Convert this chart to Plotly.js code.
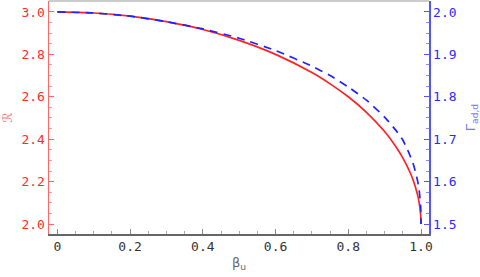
<!DOCTYPE html>
<html><head><meta charset="utf-8">
<script src="https://cdn.plot.ly/plotly-3.0.1.min.js"></script>
<style>html,body{margin:0;padding:0;background:#fff}#plot{width:480px;height:277px}</style>
</head><body><div id="plot"></div>
<script>
const betaU = [0, 0.1, 0.2, 0.3, 0.4, 0.5, 0.6, 0.7, 0.75, 0.8, 0.85, 0.9, 0.93, 0.95, 0.97, 0.98, 0.99, 0.995, 0.999, 1.0];
const ratioR = [3.0, 2.995, 2.980, 2.954, 2.917, 2.866, 2.800, 2.714, 2.661, 2.600, 2.527, 2.436, 2.367, 2.312, 2.243, 2.199, 2.141, 2.100, 2.045, 2.0];
const gammaAd = [2.0, 1.9975, 1.990, 1.977, 1.960, 1.938, 1.909, 1.872, 1.850, 1.823, 1.792, 1.752, 1.722, 1.698, 1.661, 1.638, 1.604, 1.579, 1.542, 1.5];

const mono = "DejaVu Sans Mono";
const traces = [
  {x: betaU, y: ratioR, mode: 'lines', line: {color: '#ff2222', width: 1.7, shape: 'spline', smoothing: 0.6}, yaxis: 'y', showlegend: false},
  {x: betaU, y: gammaAd, mode: 'lines', line: {color: '#2222ff', width: 1.7, dash: '8px,6px', shape: 'spline', smoothing: 0.6}, yaxis: 'y2', showlegend: false}
];
const layout = {
  width: 480, height: 277,
  margin: {l: 49, r: 51, t: 1, b: 43},
  paper_bgcolor: '#fff', plot_bgcolor: '#fff',
  xaxis: {
    range: [-0.023, 1.022], tickvals: [0, 0.2, 0.4, 0.6, 0.8, 1.0], ticktext: ['0', '0.2', '0.4', '0.6', '0.8', '1.0'],
    ticks: 'inside', ticklen: 5, tickcolor: '#888', showgrid: false, zeroline: false,
    showline: true, linecolor: '#666', linewidth: 1.5,
    tickfont: {family: mono, size: 13, color: '#333'},
    minor: {dtick: 0.05, tick0: 0, ticks: 'inside', ticklen: 3, tickcolor: '#aaa', showgrid: false},
    title: {text: 'β<sub>u</sub>', font: {family: 'DejaVu Sans', size: 13, color: '#666'}, standoff: 5}
  },
  yaxis: {
    range: [1.953, 3.0516], tickvals: [2.0, 2.2, 2.4, 2.6, 2.8, 3.0], ticktext: ['2.0', '2.2', '2.4', '2.6', '2.8', '3.0'],
    ticks: 'inside', ticklen: 5, tickcolor: '#ff6666', showgrid: false, zeroline: false,
    showline: true, linecolor: '#ff6666', linewidth: 1.5,
    tickfont: {family: mono, size: 13, color: '#ff2a2a'},
    minor: {dtick: 0.05, tick0: 2.0, ticks: 'inside', ticklen: 3, tickcolor: '#ff9999', showgrid: false},
    title: {text: 'ℛ', font: {family: 'DejaVu Sans', size: 13, color: '#ff7777'}, standoff: 12}
  },
  yaxis2: {
    overlaying: 'y', side: 'right', anchor: 'x',
    range: [1.4765, 2.0258], tickvals: [1.5, 1.6, 1.7, 1.8, 1.9, 2.0], ticktext: ['1.5', '1.6', '1.7', '1.8', '1.9', '2.0'],
    ticks: 'inside', ticklen: 5, tickcolor: '#5555ff', showgrid: false, zeroline: false,
    showline: true, linecolor: '#5555ff', linewidth: 1.5,
    tickfont: {family: mono, size: 13, color: '#2a2aff'},
    minor: {dtick: 0.025, tick0: 1.5, ticks: 'inside', ticklen: 3, tickcolor: '#8888ff', showgrid: false},
    title: {text: 'Γ<sub>ad,d</sub>', font: {family: 'DejaVu Sans', size: 13, color: '#7777ff'}, standoff: 10}
  },
  shapes: [{type: 'line', xref: 'paper', yref: 'paper', x0: 0, x1: 1, y0: 1, y1: 1, line: {color: '#bbbbbb', width: 1.5}}]
};
Plotly.newPlot('plot', traces, layout, {displayModeBar: false, staticPlot: true});
</script></body></html>
